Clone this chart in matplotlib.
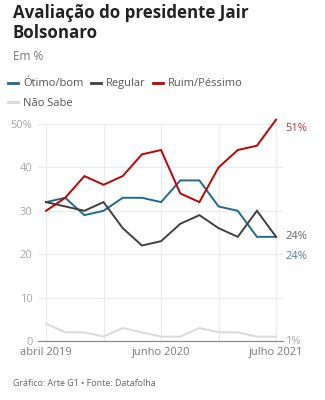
import matplotlib.pyplot as plt

plt.rcParams['font.family'] = ['Open Sans', 'DejaVu Sans']

# Datafolha polls, abril 2019 .. julho 2021
months = list(range(13))
tick_pos = [0, 6, 12]
tick_labels = ["abril 2019", "junho 2020", "julho 2021"]

otimo_bom = [32, 33, 29, 30, 33, 33, 32, 37, 37, 31, 30, 24, 24]
regular = [32, 31, 30, 32, 26, 22, 23, 27, 29, 26, 24, 30, 24]
ruim_pessimo = [30, 33, 38, 36, 38, 43, 44, 34, 32, 40, 44, 45, 51]
nao_sabe = [4, 2, 2, 1, 3, 2, 1, 1, 3, 2, 2, 1, 1]

series = [
    ("Ótimo/bom", otimo_bom, "#1f6b8e", "#4e8298"),
    ("Regular", regular, "#404040", "#666666"),
    ("Ruim/Péssimo", ruim_pessimo, "#c40000", "#c8343a"),
    ("Não Sabe", nao_sabe, "#d9d9d9", "#a6a6a6"),
]

fig = plt.figure(figsize=(3.25, 4.0), dpi=100)
ax = fig.add_axes([38 / 325, 59 / 400, 245 / 325, 217 / 400])

lines = {}
for name, vals, color, _ in series:
    lines[name], = ax.plot(months, vals, color=color, lw=1.4, clip_on=False,
                           solid_joinstyle='miter', zorder=3)

ax.set_xlim(-0.42, 12.36)
ax.set_ylim(0, 50)

ax.set_yticks([0, 10, 20, 30, 40, 50])
ax.set_yticklabels(["0", "10", "20", "30", "40", "50%"])
ax.set_xticks(tick_pos)
ax.set_xticklabels(tick_labels)
ax.tick_params(length=0, labelsize=8)
ax.tick_params(axis='y', colors='#a8a8a8', pad=4)
ax.tick_params(axis='x', colors='#7a7a7a', pad=4)

for v in range(10, 51, 10):
    ax.axhline(v, color='#ebebeb', lw=0.8, zorder=1)
for m in range(0, 13, 3):
    ax.axvline(m, color='#ebebeb', lw=0.8, zorder=1)
ax.axhline(0, color='#8c8c8c', lw=0.9, zorder=2, clip_on=False)

for s in ax.spines.values():
    s.set_visible(False)

# end-of-line value labels
offsets = {"Ótimo/bom": -4.5, "Regular": 0, "Ruim/Péssimo": -2, "Não Sabe": -1.2}
for name, vals, _, tcolor in series:
    ax.annotate(f"{vals[-1]}%", (months[-1], vals[-1] + offsets[name]),
                xytext=(6.5, 0), textcoords='offset points',
                ha='left', va='center', fontsize=8, color=tcolor,
                annotation_clip=False)

fig.text(13 / 325, 1 - 4 / 400, "Avaliação do presidente Jair\nBolsonaro",
         fontsize=12.2, fontweight='bold', color='#222222',
         va='top', ha='left', linespacing=1.15)
fig.text(13 / 325, 1 - 57 / 400, "Em %", fontsize=8.5, color='#777777',
         va='center', ha='left')

handles = [lines["Ótimo/bom"], lines["Não Sabe"], lines["Regular"], lines["Ruim/Péssimo"]]
labels = ["Ótimo/bom", "Não Sabe", "Regular", "Ruim/Péssimo"]
leg = fig.legend(handles, labels, ncol=3, frameon=False, loc='upper left',
                 bbox_to_anchor=(4 / 325, 1 - 74 / 400), fontsize=8,
                 handlelength=0.9, handletextpad=0.4, columnspacing=0.7,
                 labelspacing=0.75, labelcolor='#555555', borderaxespad=0)
for h in leg.legend_handles:
    h.set_linewidth(2)

fig.text(13 / 325, 1 - 383 / 400, "Gráfico: Arte G1 • Fonte: Datafolha",
         fontsize=6.4, color='#666666', va='center', ha='left')

fig.savefig("out.png", dpi=100)
